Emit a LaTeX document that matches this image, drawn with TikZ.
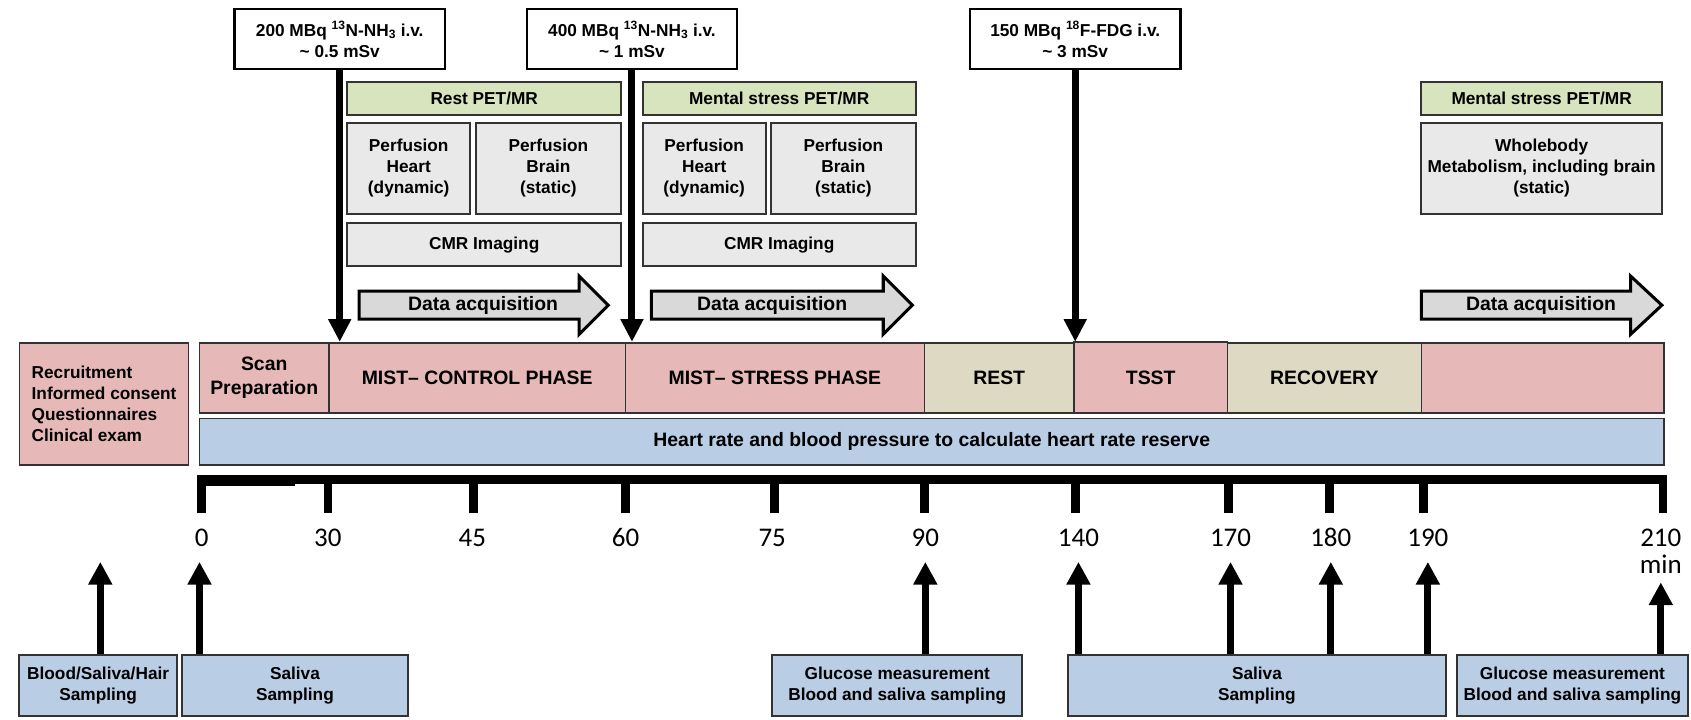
\documentclass[tikz,border=0pt]{standalone}
\usepackage{fontspec}
\setmainfont{Liberation Sans}
\newfontfamily\numfont{Carlito}
\usetikzlibrary{arrows.meta}

\definecolor{phasepink}{HTML}{E6B9B8}
\definecolor{phasebeige}{HTML}{DDD9C3}
\definecolor{monblue}{HTML}{B9CDE5}
\definecolor{petgreen}{HTML}{D7E4BD}
\definecolor{scangray}{HTML}{E9E9E9}
\definecolor{acqgray}{HTML}{D9D9D9}

% rectangle node given by its corners: style, name, x1, y1, x2, y2, text
\newcommand\placebox[7]{%
  \node[#1, minimum width={#5-#3}, minimum height={#6-#4}] (#2)
    at ({(#3+#5)/2},{(#4+#6)/2}) {#7};}

\begin{document}
\begin{tikzpicture}[x=1pt,y=-1pt,
  base/.style={draw=black!80, line width=1.8pt, inner sep=0pt, align=center,
               font=\bfseries\fontsize{16}{19.5}\selectfont},
  dose/.style={base, fill=white, draw=black, line width=2.4pt},
  petbox/.style={base, fill=petgreen},
  scanbox/.style={base, fill=scangray},
  phase/.style={base, fill=phasepink, line width=1.3pt,
                font=\bfseries\fontsize{18}{22}\selectfont},
  calm/.style={phase, fill=phasebeige},
  monitor/.style={phase, fill=monblue},
  info/.style={base, fill=phasepink, line width=1.3pt, align=left},
  sample/.style={base, fill=monblue, font=\bfseries\fontsize{16}{19}\selectfont},
  acq/.style={draw=black, line width=2.8pt, fill=acqgray, line join=miter},
  acqlabel/.style={inner sep=0pt, font=\bfseries\fontsize{18}{22}\selectfont},
  tickmark/.style={line width=8pt},
  minute/.style={inner sep=0pt, anchor=base, font=\numfont\fontsize{25}{30}\selectfont},
  inject/.style={line width=6.5pt, -{Triangle[length=21pt,width=20pt]}},
  collect/.style={line width=6.5pt, -{Triangle[length=21pt,width=21pt]}},
]
\useasboundingbox (0,0) rectangle (1568,667);

% ---------- tracer injections ----------
\placebox{dose}{inj1}{217.5}{8.5}{412.5}{64}
  {200 MBq \textsuperscript{13}N-NH\textsubscript{3} i.v.\\\textasciitilde{} 0.5 mSv}
\placebox{dose}{inj2}{488.5}{8.5}{683.5}{64}
  {400 MBq \textsuperscript{13}N-NH\textsubscript{3} i.v.\\\textasciitilde{} 1 mSv}
\placebox{dose}{inj3}{899.5}{8.5}{1094.5}{64}
  {150 MBq \textsuperscript{18}F-FDG i.v.\\\textasciitilde{} 3 mSv}

% ---------- PET/MR blocks ----------
\placebox{petbox}{restpet}{322}{76}{576}{107}{Rest PET/MR}
\placebox{petbox}{stresspet}{596}{76}{849}{107}{Mental stress PET/MR}
\placebox{petbox}{fdgpet}{1318}{76}{1541}{107}{Mental stress PET/MR}

\placebox{scanbox}{heart1}{322}{114}{436}{198}{Perfusion\\Heart\\(dynamic)}
\placebox{scanbox}{brain1}{441}{114}{576}{198}{Perfusion\\Brain\\(static)}
\placebox{scanbox}{heart2}{596}{114}{710}{198}{Perfusion\\Heart\\(dynamic)}
\placebox{scanbox}{brain2}{715}{114}{849}{198}{Perfusion\\Brain\\(static)}
\placebox{scanbox}{whole}{1318}{114}{1541}{198}
  {Wholebody\\Metabolism, including brain\\(static)}

\placebox{scanbox}{cmr1}{322}{207}{576}{247}{CMR Imaging}
\placebox{scanbox}{cmr2}{596}{207}{849}{247}{CMR Imaging}

% ---------- data acquisition arrows ----------
\draw[acq] (333,270) -- (537,270) -- (537,256) -- (564,283) -- (537,310) -- (537,296) -- (333,296) -- cycle;
\node[acqlabel] (acq1) at (448,283) {Data acquisition};
\draw[acq] (604,270) -- (819,270) -- (819,256) -- (846,283) -- (819,310) -- (819,296) -- (604,296) -- cycle;
\node[acqlabel] (acq2) at (716,283) {Data acquisition};
\draw[acq] (1318,270) -- (1512,270) -- (1512,256) -- (1541,283) -- (1512,310) -- (1512,296) -- (1318,296) -- cycle;
\node[acqlabel] (acq3) at (1429,283) {Data acquisition};

% ---------- study phases ----------
\placebox{info}{recruit}{18}{318}{175}{431}
  {Recruitment\\Informed consent\\Questionnaires\\Clinical exam}
\placebox{phase}{prep}{185}{318}{305}{383}{Scan\\Preparation}
\placebox{phase}{control}{305}{318}{580}{383}{MIST– CONTROL PHASE}
\placebox{phase}{stress}{580}{318}{857}{383}{MIST– STRESS PHASE}
\placebox{calm}{rest}{857}{318}{996}{383}{REST}
\placebox{phase}{tsst}{996}{317}{1138}{383}{TSST}
\placebox{calm}{recov}{1138}{318}{1318}{383}{RECOVERY}
\placebox{phase}{final}{1318}{318}{1543}{383}{}
\placebox{monitor}{hr}{185}{388}{1543}{431}
  {Heart rate and blood pressure to calculate heart rate reserve}

% ---------- injection arrows ----------
\coordinate (d1) at (315,317);
\coordinate (d2) at (586,317);
\coordinate (d3) at (997,317);
\draw[inject] (inj1.south) -- (d1);
\draw[inject] (inj2.south) -- (d2);
\draw[inject] (inj3.south) -- (d3);

% ---------- time axis ----------
\draw[line width=8.5pt] (183,444.5) -- (1546,444.5);
\draw[line width=8pt] (183,447) -- (274,447);
\foreach \x in {187,304,439,580,718,857,997,1139,1233,1320,1542}
  \draw[tickmark] (\x,444) -- (\x,476);

\node[minute] (m0)   at (187,507)  {0};
\node[minute] (m30)  at (304,507)  {30};
\node[minute] (m45)  at (438,507)  {45};
\node[minute] (m60)  at (580,507)  {60};
\node[minute] (m75)  at (716,507)  {75};
\node[minute] (m90)  at (858,507)  {90};
\node[minute] (m140) at (1000,507) {140};
\node[minute] (m170) at (1141,507) {170};
\node[minute] (m180) at (1234,507) {180};
\node[minute] (m190) at (1324,507) {190};
\node[minute] (m210) at (1540,507) {210};
\node[minute] (unit) at (1540,532) {min};

% ---------- sampling ----------
\placebox{sample}{hair}{18}{607}{164}{664}{Blood/Saliva/Hair\\Sampling}
\placebox{sample}{sal1}{169}{607}{378}{664}{Saliva\\Sampling}
\placebox{sample}{glu1}{716}{607}{948}{664}{Glucose measurement\\Blood and saliva sampling}
\placebox{sample}{sal2}{990}{607}{1341}{664}{Saliva\\Sampling}
\placebox{sample}{glu2}{1351}{607}{1565}{664}{Glucose measurement\\Blood and saliva sampling}

\coordinate (uA) at (93,521);
\coordinate (uB) at (185,521);
\coordinate (u90) at (858,521);
\coordinate (u140) at (1000,521);
\coordinate (u170) at (1141,521);
\coordinate (u180) at (1234,521);
\coordinate (u190) at (1324,521);
\coordinate (u210) at (1540,540);

\draw[collect] (hair.north -| uA) -- (uA);
\draw[collect] (sal1.north -| uB) -- (uB);
\draw[collect] (glu1.north -| u90) -- (u90);
\draw[collect] (sal2.north -| u140) -- (u140);
\draw[collect] (sal2.north -| u170) -- (u170);
\draw[collect] (sal2.north -| u180) -- (u180);
\draw[collect] (sal2.north -| u190) -- (u190);
\draw[collect] (glu2.north -| u210) -- (u210);
\end{tikzpicture}
\end{document}
